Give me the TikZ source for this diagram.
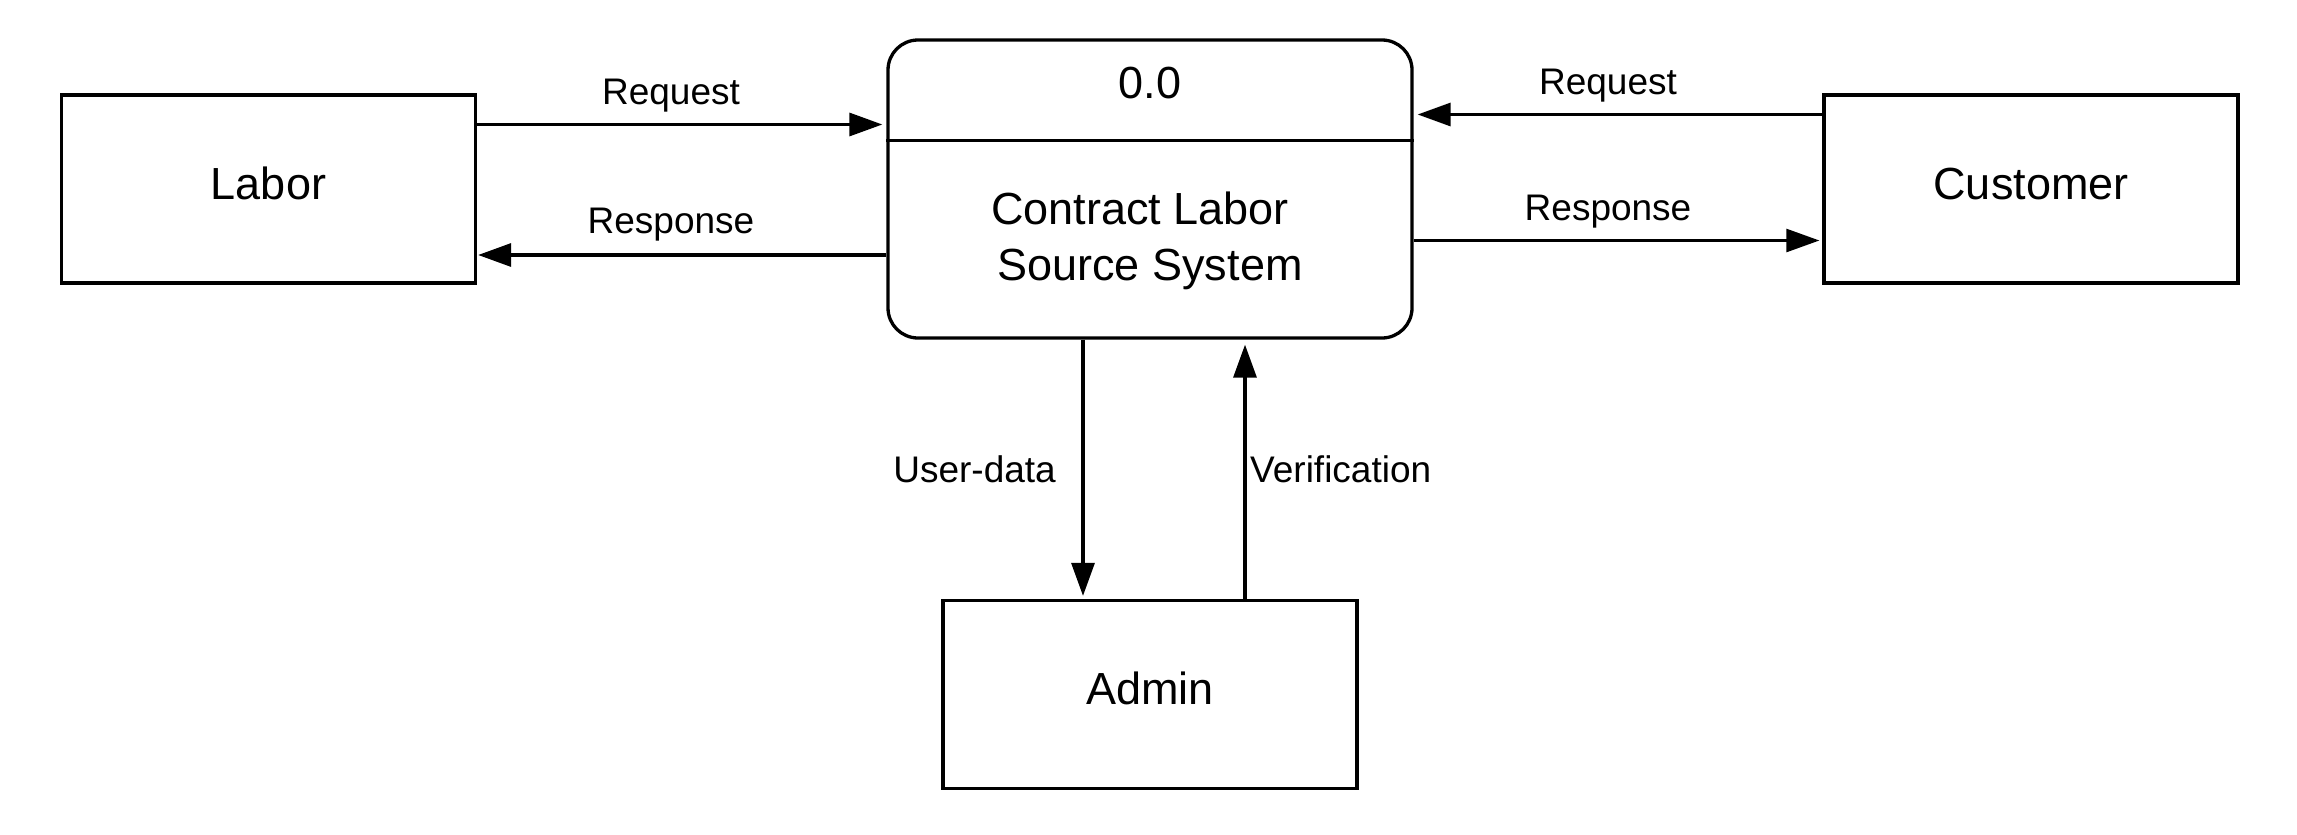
\documentclass[tikz,border=0pt]{standalone}
\usepackage{fontspec}
\setmainfont{Liberation Sans}
\usetikzlibrary{arrows.meta}
\begin{document}
\begin{tikzpicture}[x=1pt,y=-1pt,
  entity/.style={draw=black,line width=3.3pt,rectangle,minimum width=414pt,minimum height=188pt,inner sep=0pt,text height=32pt,text depth=12pt,font=\fontsize{45}{56}\selectfont},
  procbox/.style={draw=black,line width=3.3pt,rectangle,rounded corners=30pt,minimum width=524pt,minimum height=298pt,inner sep=0pt},
  boxtext/.style={inner sep=0pt,font=\fontsize{45}{56}\selectfont,align=center},
  lbl/.style={inner sep=0pt,font=\fontsize{37}{44}\selectfont},
  flow/.style={line width=3.2pt,-{Triangle[length=33pt,width=23pt]}},
  thinflow/.style={line width=2.6pt,-{Triangle[length=33pt,width=23pt]}}
]
\useasboundingbox (0,0) rectangle (2297,835);
\fill[white] (0,0) rectangle (2297,835);

\node[entity] (labor) at (268.5,189) {Labor};
\node[entity] (customer) at (2031,189) {Customer};
\node[entity] (admin) at (1150,694.5) {Admin};
\node[procbox] (proc) at (1150,189) {};
\coordinate (divl) at (proc.west |- 0,140.6);
\coordinate (divr) at (proc.east |- 0,140.6);
\draw[line width=3.3pt] (divl) -- (divr);
\node[boxtext] (num) at (1150,83.5) {0.0};
\node[boxtext] (title) at (1140,241) {Contract Labor\\\hspace*{20pt}Source System};

% Labor <-> process
\draw[flow,shorten >=4pt] (labor.east |- 0,124.5) -- (proc.west |- 0,124.5);
\draw[flow,shorten >=1pt] (proc.west |- 0,255) -- (labor.east |- 0,255);
\node[lbl] (l1) at (671,95.5) {Request};
\node[lbl] (l2) at (671,224.5) {Response};

% Customer <-> process
\draw[flow,shorten >=4pt] (customer.west |- 0,114.5) -- (proc.east |- 0,114.5);
\draw[thinflow,shorten >=3pt] (proc.east |- 0,240.5) -- (customer.west |- 0,240.5);
\node[lbl] (l3) at (1608,85.5) {Request};
\node[lbl] (l4) at (1608,211.5) {Response};

% Admin <-> process
\draw[flow,shorten >=3pt] (proc.south -| 1083,0) -- (admin.north -| 1083,0);
\draw[flow,shorten >=5pt] (admin.north -| 1245,0) -- (proc.south -| 1245,0);
\node[lbl,anchor=east] (l5) at (1056,469) {User-data};
\node[lbl,anchor=west] (l6) at (1250,469) {Verification};
\end{tikzpicture}
\end{document}
